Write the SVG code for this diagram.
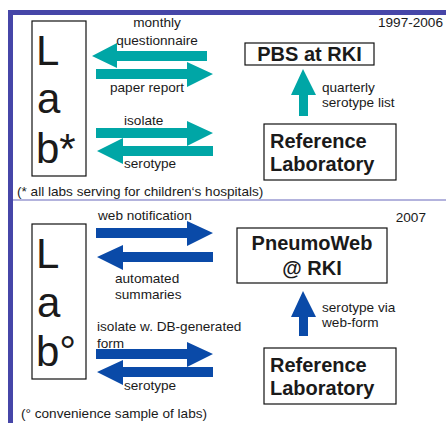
<svg xmlns="http://www.w3.org/2000/svg" width="446" height="423" viewBox="0 0 446 423">
<style>
text{font-family:"Liberation Sans",Arial,sans-serif;fill:#1a1a1a}
.s{font-size:13.6px}
.b{font-size:20px;font-weight:bold;text-anchor:middle}
.lab{font-size:42px}
.box{fill:#fff;stroke:#111;stroke-width:1.2}
.teal{fill:#00a6a6}
.blue{fill:#0a4aa8}
</style>
<rect width="446" height="423" fill="#fff"/>
<g id="frame">
<rect x="8" y="10" width="438" height="5" fill="#4646a8"/>
<rect x="8" y="10" width="5" height="413" fill="#4646a8"/>
<line x1="13" y1="200" x2="446" y2="200" stroke="#9a9ad2" stroke-width="1.5"/>
</g>
<g id="lab1">
<rect class="box" x="32" y="21" width="54" height="155"/>
<text class="lab" x="36" y="65">L</text>
<text class="lab" x="37" y="113">a</text>
<text class="lab" x="36" y="163">b*</text>
</g>
<g id="pbs">
<rect class="box" x="245" y="43" width="129" height="22"/>
<text class="b" x="309.5" y="61">PBS at RKI</text>
</g>
<g id="ref1">
<rect class="box" x="264" y="124" width="132" height="56"/>
<text class="b" x="270" y="148" style="text-anchor:start">Reference</text>
<text class="b" x="270" y="171" style="text-anchor:start">Laboratory</text>
</g>
<g id="lab2">
<rect class="box" x="32" y="224" width="54" height="155"/>
<text class="lab" x="36" y="268">L</text>
<text class="lab" x="37" y="317">a</text>
<text class="lab" x="36" y="366">b°</text>
</g>
<g id="pneumoweb">
<rect class="box" x="237" y="228" width="150" height="55"/>
<text class="b" x="312" y="250">PneumoWeb</text>
<text class="b" x="312" y="275">@ RKI</text>
</g>
<g id="ref2">
<rect class="box" x="264" y="348" width="132" height="56"/>
<text class="b" x="270" y="372" style="text-anchor:start">Reference</text>
<text class="b" x="270" y="395" style="text-anchor:start">Laboratory</text>
</g>
<g id="connectors">
<polygon class="teal" points="92,56 117,43 117,51 207,51 207,61 117,61 117,68"/>
<polygon class="teal" points="213,74 187,62 187,69 96,69 96,79 187,79 187,87"/>
<polygon class="teal" points="213,133 187,121 187,128 96,128 96,138 187,138 187,146"/>
<polygon class="teal" points="97,151 123,138 123,146 213,146 213,156 123,156 123,164"/>
<polygon class="teal" points="303,69 316,95 308,95 308,116 299,116 299,95 291,95"/>
<polygon class="blue" points="213,233 187,221 187,228 96,228 96,238 187,238 187,246"/>
<polygon class="blue" points="97,257 123,245 123,252 213,252 213,262 123,262 123,270"/>
<polygon class="blue" points="213,354 187,342 187,349 96,349 96,359 187,359 187,367"/>
<polygon class="blue" points="97,372 123,360 123,367 213,367 213,377 123,377 123,385"/>
<polygon class="blue" points="303,291 316,317 308,317 308,336 299,336 299,317 291,317"/>
</g>
<g id="labels">
<text class="s" x="157" y="27" text-anchor="middle">monthly</text>
<text class="s" x="157" y="45" text-anchor="middle">questionnaire</text>
<text class="s" x="110" y="92">paper report</text>
<text class="s" x="124" y="125">isolate</text>
<text class="s" x="124" y="168">serotype</text>
<text class="s" x="443" y="27" text-anchor="end">1997-2006</text>
<text class="s" x="322" y="92">quarterly</text>
<text class="s" x="322" y="107">serotype list</text>
<text class="s" x="17" y="196">(* all labs serving for children‘s hospitals)</text>
<text class="s" x="426" y="222" text-anchor="end">2007</text>
<text class="s" x="98" y="220">web notification</text>
<text class="s" x="115" y="283">automated</text>
<text class="s" x="115" y="299">summaries</text>
<text class="s" x="97" y="331">isolate w. DB-generated</text>
<text class="s" x="97" y="348">form</text>
<text class="s" x="124" y="390">serotype</text>
<text class="s" x="322" y="312">serotype via</text>
<text class="s" x="322" y="327">web-form</text>
<text class="s" x="21" y="418">(° convenience sample of labs)</text>
</g>
</svg>
